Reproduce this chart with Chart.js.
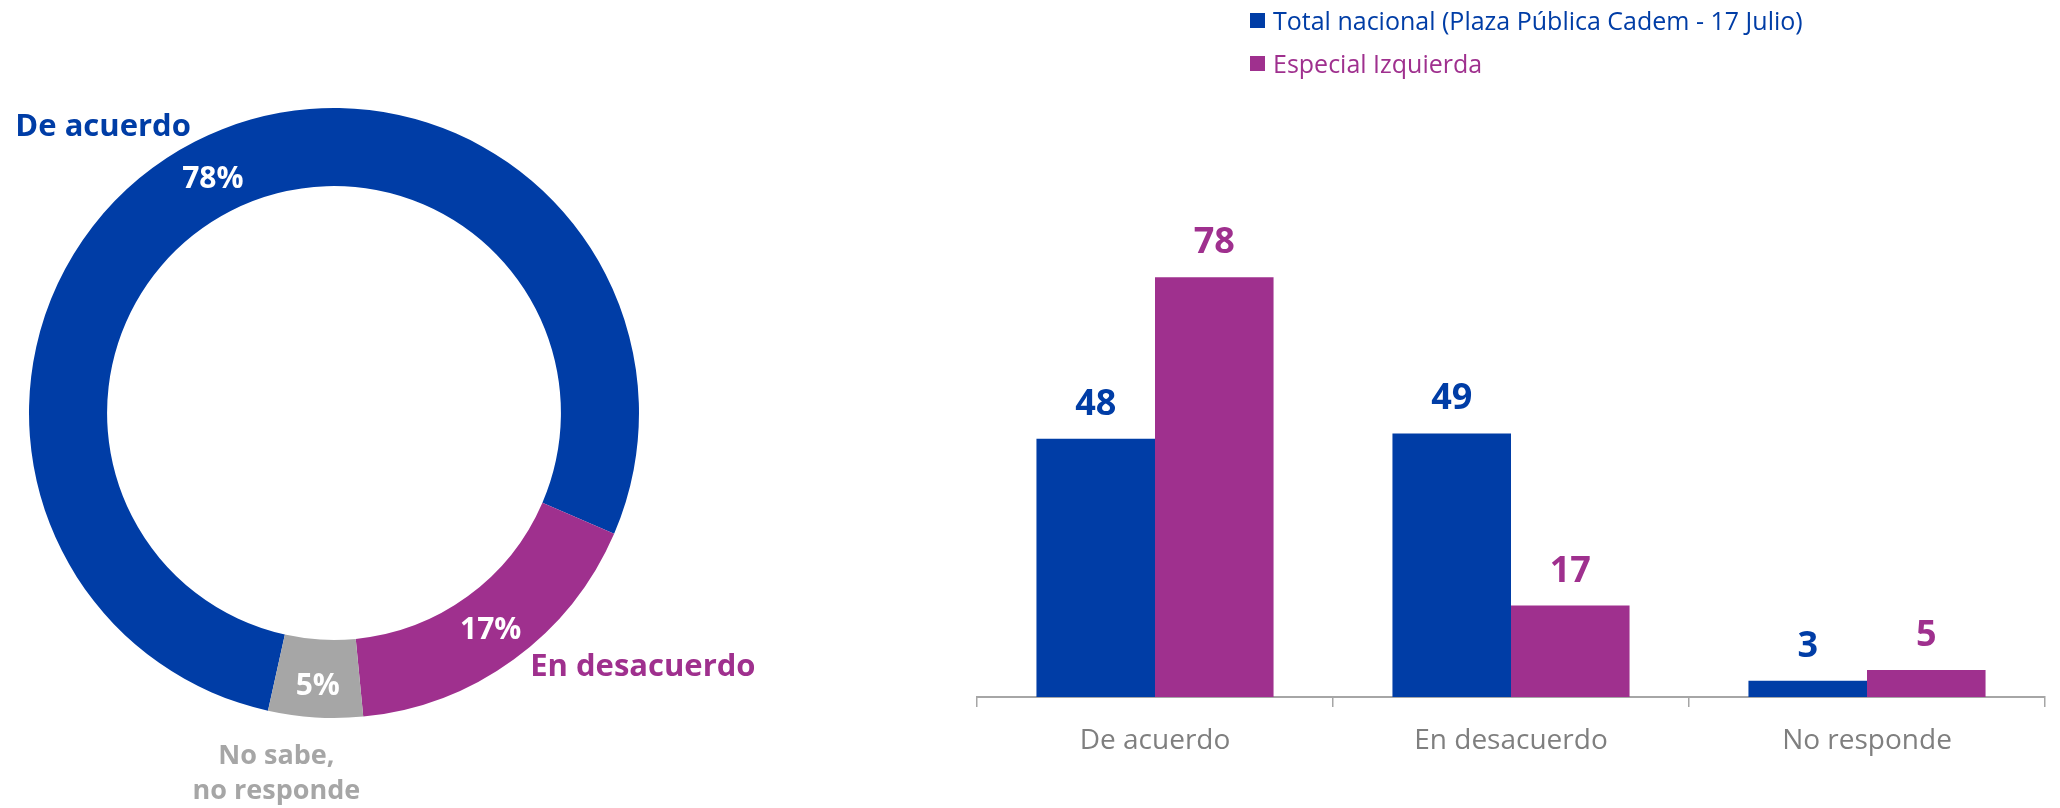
<!DOCTYPE html>
<html>
<head>
<meta charset="utf-8">
<script src="https://cdn.jsdelivr.net/npm/chart.js@4.4.1/dist/chart.umd.min.js"></script>
<style>
  html, body { margin: 0; padding: 0; background: #ffffff; width: 2060px; height: 808px; overflow: hidden; }
  #donutWrap { position: absolute; left: 0; top: 0; width: 900px; height: 808px; }
  #barWrap { position: absolute; left: 960px; top: 0; width: 1100px; height: 808px; }
  canvas { display: block; }
</style>
</head>
<body>
<div id="donutWrap"><canvas id="donut" width="900" height="808" style="width:900px;height:808px"></canvas></div>
<div id="barWrap"><canvas id="bar" width="1100" height="808" style="width:1100px;height:808px"></canvas></div>
<script>
// ---------- DATA ----------
const donutLabels = [['De acuerdo'], ['En desacuerdo'], ['No sabe,', 'no responde']];
const donutValues = [78, 17, 5];

const categories = ['De acuerdo', 'En desacuerdo', 'No responde'];
const seriesNames = ['Total nacional (Plaza Pública Cadem - 17 Julio)', 'Especial Izquierda'];
const totalNacional = [48, 49, 3];
const especialIzquierda = [78, 17, 5];

// ---------- STYLE ----------
const FONT = "'Open Sans', sans-serif";
const BLUE = '#003DA6';
const PURPLE = '#9F308E';
const GRAY = '#A6A6A6';
const donutColors = [BLUE, PURPLE, GRAY];

// outer label placement for the doughnut (radius factor, alignment, nudge)
const donutPlacement = [
  { r: 1.03, align: 'right', dx: 0, dy: 3, size: 31, gap: 0 },
  { r: 1.075, align: 'left', dx: 3, dy: -2, size: 31, gap: 0 },
  { r: 1.0, align: 'center', dx: -39, dy: 47, size: 27, gap: 35 }
];
const pctNudge = [1, 0, 6];

Chart.defaults.font.family = FONT;

const donutLabelPlugin = {
  id: 'donutLabels',
  afterDatasetsDraw(chart) {
    const ctx = chart.ctx;
    const meta = chart.getDatasetMeta(0);
    meta.data.forEach((arc, i) => {
      const p = arc.tooltipPosition();
      ctx.save();
      ctx.font = 'bold 30px ' + FONT;
      ctx.fillStyle = '#ffffff';
      ctx.textAlign = 'center';
      ctx.textBaseline = 'alphabetic';
      ctx.fillText(donutValues[i] + '%', p.x, p.y + 11 + pctNudge[i]);

      const pl = donutPlacement[i];
      const mid = (arc.startAngle + arc.endAngle) / 2;
      const r = arc.outerRadius * pl.r;
      const x = arc.x + Math.cos(mid) * r + pl.dx;
      const y = arc.y + Math.sin(mid) * r + pl.dy;
      ctx.font = 'bold ' + pl.size + 'px ' + FONT;
      ctx.fillStyle = donutColors[i];
      ctx.textAlign = pl.align;
      donutLabels[i].forEach((line, j) => ctx.fillText(line, x, y + j * pl.gap));
      ctx.restore();
    });
  }
};

const barValuePlugin = {
  id: 'barValues',
  afterDatasetsDraw(chart) {
    const ctx = chart.ctx;
    chart.data.datasets.forEach((ds, di) => {
      const meta = chart.getDatasetMeta(di);
      meta.data.forEach((bar, i) => {
        ctx.save();
        ctx.font = 'bold 36px ' + FONT;
        ctx.fillStyle = ds.backgroundColor;
        ctx.textAlign = 'center';
        ctx.textBaseline = 'alphabetic';
        ctx.fillText(String(ds.data[i]), bar.x, bar.y - 24);
        ctx.restore();
      });
    });
  }
};

const stackedLegendPlugin = {
  id: 'stackedLegend',
  afterDraw(chart) {
    const ctx = chart.ctx;
    const x0 = 290, top0 = 13, rowGap = 43, box = 15;
    chart.data.datasets.forEach((ds, i) => {
      const ty = top0 + i * rowGap;
      ctx.save();
      ctx.fillStyle = ds.backgroundColor;
      ctx.fillRect(x0, ty, box, box);
      ctx.font = '25px ' + FONT;
      ctx.textAlign = 'left';
      ctx.textBaseline = 'alphabetic';
      ctx.fillText(ds.label, x0 + 23, ty + 16.5);
      ctx.restore();
    });
  }
};

function build() {
  new Chart(document.getElementById('donut'), {
    type: 'doughnut',
    data: {
      labels: donutLabels.map(l => l.join(' ')),
      datasets: [{
        data: donutValues,
        backgroundColor: donutColors,
        borderWidth: 0,
        hoverOffset: 0
      }]
    },
    options: {
      responsive: false,
      animation: false,
      devicePixelRatio: 1,
      rotation: -167.5,
      cutout: '74.4%',
      layout: { padding: { left: 29, right: 261, top: 108, bottom: 90 } },
      plugins: { legend: { display: false }, tooltip: { enabled: false } }
    },
    plugins: [donutLabelPlugin]
  });

  new Chart(document.getElementById('bar'), {
    type: 'bar',
    data: {
      labels: categories,
      datasets: [
        { label: seriesNames[0], data: totalNacional, backgroundColor: BLUE, borderWidth: 0 },
        { label: seriesNames[1], data: especialIzquierda, backgroundColor: PURPLE, borderWidth: 0 }
      ]
    },
    options: {
      responsive: false,
      animation: false,
      devicePixelRatio: 1,
      categoryPercentage: 0.666,
      barPercentage: 1.0,
      layout: { padding: { left: 17, right: 15, top: 159, bottom: 0 } },
      scales: {
        x: {
          offset: true,
          grid: { display: true, drawOnChartArea: false, drawTicks: true, tickLength: 10, color: '#A6A6A6', lineWidth: 1.5, offset: true },
          border: { display: true, color: '#A6A6A6', width: 2 },
          ticks: { color: '#7F7F7F', font: { family: FONT, size: 28 }, padding: 17, maxRotation: 0 },
          afterFit: (scale) => { scale.height = 111; }
        },
        y: { display: false, min: 0, max: 100 }
      },
      plugins: { legend: { display: false }, tooltip: { enabled: false } }
    },
    plugins: [barValuePlugin, stackedLegendPlugin]
  });
}

if (document.fonts && document.fonts.load) {
  Promise.all(['bold 30px "Open Sans"', '25px "Open Sans"'].map(f => document.fonts.load(f)))
    .then(build, build);
} else {
  build();
}
</script>
</body>
</html>
